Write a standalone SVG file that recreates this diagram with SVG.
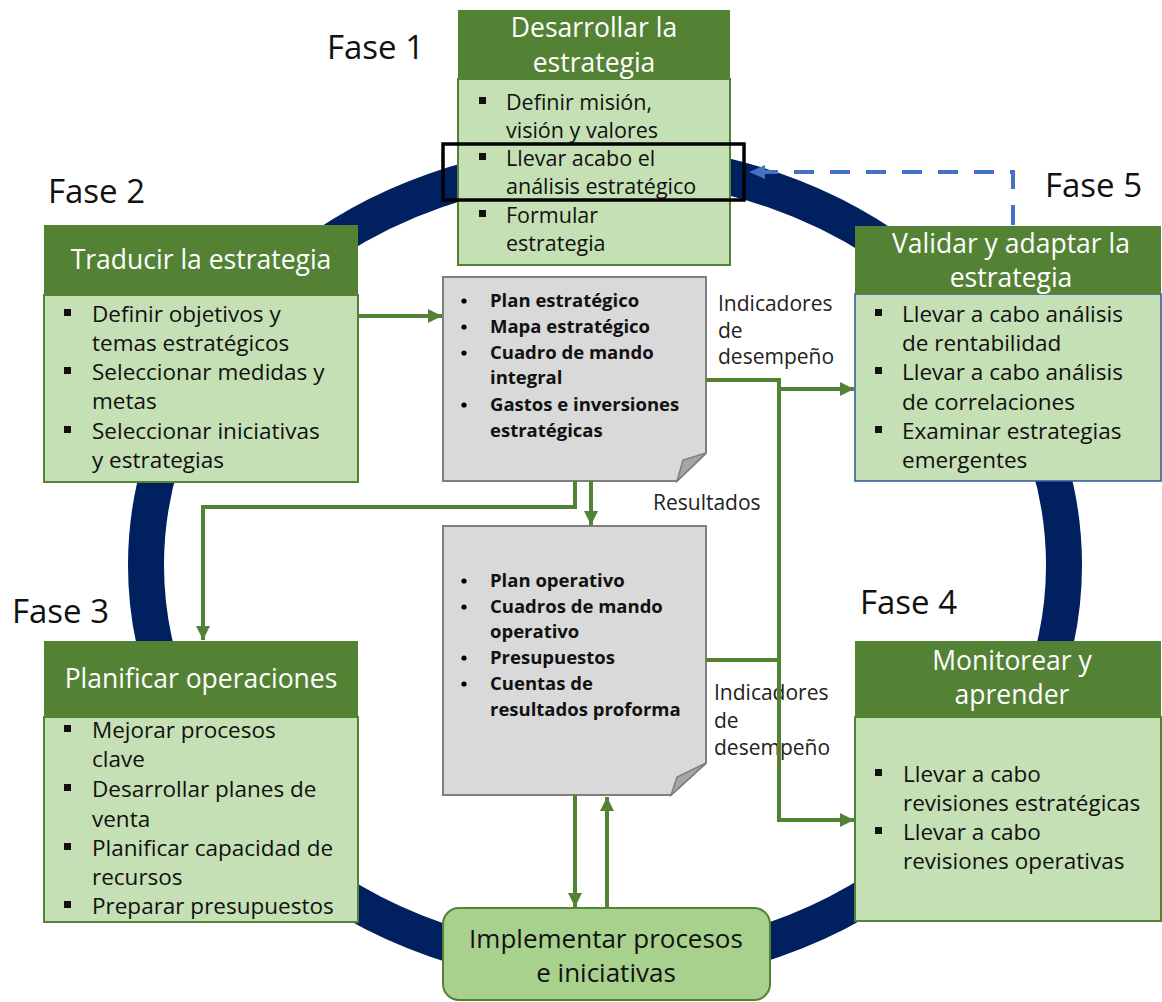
<svg xmlns="http://www.w3.org/2000/svg" width="1162" height="1002" viewBox="0 0 1162 1002">
  <style>
    text { font-family: "Open Sans", "Liberation Sans", sans-serif; fill: #111; }
    .fase { font-size: 33px; }
    .hdr { font-size: 26.5px; fill: #fff; text-anchor: middle; }
    .body { font-size: 22.5px; }
    .body-sm { font-size: 21.5px; }
    .doc { font-size: 18.5px; font-weight: bold; }
    .lbl { font-size: 21px; fill: #222; }
    .impl { font-size: 26px; text-anchor: middle; }
    .head { fill: #548235; }
    .panel { fill: #C5E0B4; stroke: #548235; stroke-width: 2; }
    .panel-blue { fill: #C5E0B4; stroke: #2F5597; stroke-width: 1.5; }
    .sq { fill: #111; }
    .page { fill: #D9D9D9; stroke: #7F7F7F; stroke-width: 2; }
    .fold { fill: #A6A6A6; stroke: #7F7F7F; stroke-width: 1.5; }
    .conn { fill: none; stroke: #548235; stroke-width: 4; }
  </style>
  <defs>
    <marker id="arrow-green" markerUnits="userSpaceOnUse" markerWidth="16" markerHeight="16" viewBox="0 0 16 16" refX="14" refY="8" orient="auto">
      <path d="M0,1 L14,8 L0,15 Z" fill="#548235"/>
    </marker>
    <marker id="arrow-blue" markerUnits="userSpaceOnUse" markerWidth="18" markerHeight="16" viewBox="0 0 18 16" refX="16" refY="8" orient="auto">
      <path d="M0,1 L16,8 L0,15 Z" fill="#4472C4"/>
    </marker>
  </defs>

  <!-- cycle ring -->
  <ellipse cx="605" cy="565" rx="459" ry="403" fill="none" stroke="#002060" stroke-width="36"/>

  <!-- Fase labels -->
  <text class="fase" x="327" y="59">Fase 1</text>
  <text class="fase" x="48" y="203">Fase 2</text>
  <text class="fase" x="1045" y="197">Fase 5</text>
  <text class="fase" x="12" y="623">Fase 3</text>
  <text class="fase" x="860" y="614">Fase 4</text>

  <!-- Phase 1 -->
  <g id="fase1">
    <rect class="panel" x="458" y="79" width="272" height="186"/>
    <rect class="head" x="458" y="10" width="272" height="69"/>
    <text class="hdr" x="594" y="37">Desarrollar la</text>
    <text class="hdr" x="594" y="72">estrategia</text>
    <rect class="sq" x="479" y="97" width="7" height="7"/>
    <text class="body-sm" x="506" y="110">Definir misión,</text>
    <text class="body-sm" x="506" y="138">visión y valores</text>
    <rect class="sq" x="479" y="153" width="7" height="7"/>
    <text class="body-sm" x="506" y="166">Llevar acabo el</text>
    <text class="body-sm" x="506" y="194">análisis estratégico</text>
    <rect class="sq" x="479" y="210" width="7" height="7"/>
    <text class="body-sm" x="506" y="223">Formular</text>
    <text class="body-sm" x="506" y="251">estrategia</text>
    <rect x="443" y="144" width="301" height="56" fill="none" stroke="#000" stroke-width="3.5"/>
  </g>

  <!-- Phase 2 -->
  <g id="fase2">
    <rect class="panel" x="44" y="295" width="314" height="187"/>
    <rect class="head" x="44" y="225" width="314" height="70"/>
    <text class="hdr" x="201" y="269">Traducir la estrategia</text>
    <rect class="sq" x="64" y="309" width="7" height="7"/>
    <text class="body" x="92" y="322">Definir objetivos y</text>
    <text class="body" x="92" y="351">temas estratégicos</text>
    <rect class="sq" x="64" y="367" width="7" height="7"/>
    <text class="body" x="92" y="380">Seleccionar medidas y</text>
    <text class="body" x="92" y="409">metas</text>
    <rect class="sq" x="64" y="426" width="7" height="7"/>
    <text class="body" x="92" y="439">Seleccionar iniciativas</text>
    <text class="body" x="92" y="468">y estrategias</text>
  </g>

  <!-- Phase 5 -->
  <g id="fase5">
    <rect class="panel-blue" x="855" y="294" width="306" height="187"/>
    <rect class="head" x="855" y="226" width="306" height="68"/>
    <text class="hdr" x="1011" y="253">Validar y adaptar la</text>
    <text class="hdr" x="1011" y="287">estrategia</text>
    <rect class="sq" x="875" y="309" width="7" height="7"/>
    <text class="body" x="902" y="322">Llevar a cabo análisis</text>
    <text class="body" x="902" y="351">de rentabilidad</text>
    <rect class="sq" x="875" y="367" width="7" height="7"/>
    <text class="body" x="902" y="380">Llevar a cabo análisis</text>
    <text class="body" x="902" y="410">de correlaciones</text>
    <rect class="sq" x="875" y="426" width="7" height="7"/>
    <text class="body" x="902" y="439">Examinar estrategias</text>
    <text class="body" x="902" y="468">emergentes</text>
  </g>

  <!-- Phase 3 -->
  <g id="fase3">
    <rect class="panel" x="44" y="717" width="314" height="205"/>
    <rect class="head" x="44" y="641" width="314" height="76"/>
    <text class="hdr" x="201" y="688">Planificar operaciones</text>
    <rect class="sq" x="64" y="725" width="7" height="7"/>
    <text class="body" x="92" y="738">Mejorar procesos</text>
    <text class="body" x="92" y="767">clave</text>
    <rect class="sq" x="64" y="784" width="7" height="7"/>
    <text class="body" x="92" y="797">Desarrollar planes de</text>
    <text class="body" x="92" y="827">venta</text>
    <rect class="sq" x="64" y="843" width="7" height="7"/>
    <text class="body" x="92" y="856">Planificar capacidad de</text>
    <text class="body" x="92" y="885">recursos</text>
    <rect class="sq" x="64" y="901" width="7" height="7"/>
    <text class="body" x="92" y="914">Preparar presupuestos</text>
  </g>

  <!-- Phase 4 -->
  <g id="fase4">
    <rect class="panel" x="855" y="717" width="306" height="204"/>
    <rect class="head" x="855" y="641" width="306" height="76"/>
    <text class="hdr" x="1012" y="670">Monitorear y</text>
    <text class="hdr" x="1012" y="704">aprender</text>
    <rect class="sq" x="875" y="769" width="7" height="7"/>
    <text class="body" x="903" y="782">Llevar a cabo</text>
    <text class="body" x="903" y="811">revisiones estratégicas</text>
    <rect class="sq" x="875" y="827" width="7" height="7"/>
    <text class="body" x="903" y="840">Llevar a cabo</text>
    <text class="body" x="903" y="869">revisiones operativas</text>
  </g>

  <!-- strategic documents -->
  <g id="doc-estrategico">
    <path class="page" d="M443,277 H706 V453 L677,481 H443 Z"/>
    <path class="fold" d="M706,453 L677,481 L683,460 Z"/>
    <circle cx="464" cy="301" r="2.6"/>
    <text class="doc" x="490" y="307">Plan estratégico</text>
    <circle cx="464" cy="327" r="2.6"/>
    <text class="doc" x="490" y="333">Mapa estratégico</text>
    <circle cx="464" cy="353" r="2.6"/>
    <text class="doc" x="490" y="359">Cuadro de mando</text>
    <text class="doc" x="490" y="384">integral</text>
    <circle cx="464" cy="405" r="2.6"/>
    <text class="doc" x="490" y="411">Gastos e inversiones</text>
    <text class="doc" x="490" y="437">estratégicas</text>
  </g>

  <!-- operational documents -->
  <g id="doc-operativo">
    <path class="page" d="M443,526 H706 V763 L671,795 H443 Z"/>
    <path class="fold" d="M706,763 L671,795 L677,777 Z"/>
    <circle cx="464" cy="581" r="2.6"/>
    <text class="doc" x="490" y="587">Plan operativo</text>
    <circle cx="464" cy="607" r="2.6"/>
    <text class="doc" x="490" y="613">Cuadros de mando</text>
    <text class="doc" x="490" y="638">operativo</text>
    <circle cx="464" cy="658" r="2.6"/>
    <text class="doc" x="490" y="664">Presupuestos</text>
    <circle cx="464" cy="684" r="2.6"/>
    <text class="doc" x="490" y="690">Cuentas de</text>
    <text class="doc" x="490" y="716">resultados proforma</text>
  </g>

  <!-- implementation -->
  <g id="implementar">
    <rect x="443" y="908" width="327" height="92" rx="16" fill="#A9D18E" stroke="#548235" stroke-width="2"/>
    <text class="impl" x="606" y="948">Implementar procesos</text>
    <text class="impl" x="606" y="982">e iniciativas</text>
  </g>

  <!-- connector labels -->
  <g id="labels">
    <text class="lbl" x="718" y="311">Indicadores</text>
    <text class="lbl" x="718" y="338">de</text>
    <text class="lbl" x="718" y="364">desempeño</text>
    <text class="lbl" x="653" y="510">Resultados</text>
    <text class="lbl" x="714" y="700">Indicadores</text>
    <text class="lbl" x="714" y="728">de</text>
    <text class="lbl" x="714" y="755">desempeño</text>
  </g>

  <!-- connectors -->
  <g id="connectors">
    <path class="conn" d="M358,316 H442" marker-end="url(#arrow-green)"/>
    <path class="conn" d="M575,481 V507 H203 V640" marker-end="url(#arrow-green)"/>
    <path class="conn" d="M591,481 V525" marker-end="url(#arrow-green)"/>
    <path class="conn" d="M706,380 H779 V820 H854" marker-end="url(#arrow-green)"/>
    <path class="conn" d="M779,389 H854" marker-end="url(#arrow-green)"/>
    <path class="conn" d="M706,660 H779"/>
    <path class="conn" d="M575,795 V907" marker-end="url(#arrow-green)"/>
    <path class="conn" d="M607,908 V797" marker-end="url(#arrow-green)"/>
    <path d="M1013,225 V172 H749" fill="none" stroke="#4472C4" stroke-width="4" stroke-dasharray="20 16" marker-end="url(#arrow-blue)"/>
  </g>
</svg>
